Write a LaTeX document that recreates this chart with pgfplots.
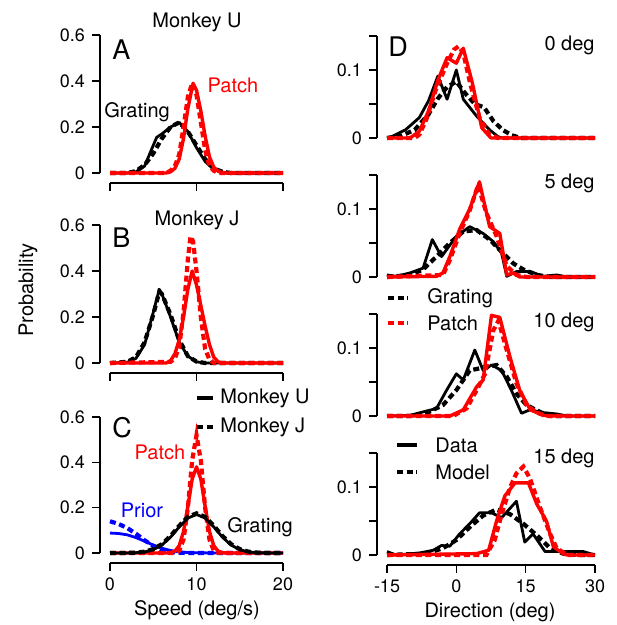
\documentclass[border=0pt]{standalone}
\usepackage{fontspec}
\setmainfont{TeX Gyre Heros}
\usepackage{pgfplots}
\pgfplotsset{compat=1.18}

\definecolor{pred}{RGB}{255,0,0}
\definecolor{pblue}{RGB}{0,0,255}

\pgfplotsset{
  panel/.style={
    scale only axis, anchor=south west, clip=false,
    axis lines=left,
    axis line style={-, line width=0.6pt},
    every tick/.style={black, line width=0.6pt},
    tick align=outside, major tick length=4pt,
    axis x line shift=5pt, axis y line shift=5pt,
    tick label style={font=\fontsize{9}{10}\selectfont},
  },
  left/.style={panel, width=86.5pt, height=69pt,
    xmin=0, xmax=20, ymin=0, ymax=0.6,
    xtick={0,10,20}, ytick={0,0.2,0.4,0.6},
    yticklabels={0,0.2,0.4,0.6}},
  right/.style={panel, width=104pt, height=51pt,
    xmin=-15, xmax=30, ymin=0, ymax=0.15,
    xtick={-15,0,15,30}, ytick={0,0.05,0.1,0.15},
    yticklabels={0,,0.1,}},
  sol/.style={line width=1.4pt, mark=none, line join=round},
  solr/.style={line width=1.7pt, mark=none, line join=round},
  das/.style={line width=2.1pt, mark=none, dash pattern=on 3pt off 1.8pt},
}
\newcommand{\lab}{\fontsize{10}{11}\selectfont}
\newcommand{\letr}{\fontsize{13.5}{14}\selectfont}

\begin{document}
\begin{tikzpicture}
\path[use as bounding box] (0,0) rectangle (308pt,312.5pt);

% ---------- A : Monkey U
\begin{axis}[left, at={(55pt,226pt)}, xticklabels={}]
\addplot[sol, black] coordinates {(0,0)(1,0)(2,0)(3,0.005)(4,0.03)(5,0.12)(5.4,0.155)(6,0.17)(7,0.2)(8,0.22)(9,0.18)(10,0.11)(11,0.05)(12,0.015)(13,0.003)(14,0)(20,0)};
\addplot[das, black] coordinates {(0,0)(2,0)(3,0.008)(4,0.035)(5,0.085)(6,0.15)(7,0.2)(8,0.22)(9,0.18)(10,0.12)(11,0.06)(12,0.02)(13,0.005)(14,0)(20,0)};
\addplot[solr, pred] coordinates {(0,0)(6.5,0)(7,0.005)(7.5,0.02)(8,0.06)(8.5,0.15)(9,0.28)(9.6,0.39)(10,0.36)(10.5,0.27)(11,0.16)(11.5,0.07)(12,0.025)(12.5,0.008)(13,0)(20,0)};
\addplot[das, pred] coordinates {(0,0)(6.5,0)(7,0.01)(7.5,0.03)(8,0.08)(8.5,0.2)(9,0.33)(9.5,0.39)(10,0.34)(10.5,0.22)(11,0.1)(11.5,0.03)(12,0.01)(12.5,0)(20,0)};
\end{axis}

% ---------- B : Monkey J
\begin{axis}[left, at={(55pt,131pt)}, xticklabels={}]
\addplot[sol, black] coordinates {(0,0)(2,0.003)(3,0.02)(4,0.08)(5,0.22)(5.7,0.32)(6,0.3)(7,0.2)(8,0.09)(9,0.03)(10,0.005)(11,0)(20,0)};
\addplot[das, black] coordinates {(0,0)(2,0.005)(3,0.025)(4,0.09)(5,0.21)(5.7,0.31)(6,0.3)(7,0.21)(8,0.1)(9,0.03)(10,0.006)(11,0)(20,0)};
\addplot[solr, pred] coordinates {(0,0)(6.5,0)(7,0.01)(7.5,0.04)(8,0.1)(8.5,0.2)(9,0.32)(9.5,0.40)(10,0.34)(10.5,0.25)(11,0.16)(11.5,0.08)(12,0.025)(12.5,0.005)(13,0)(20,0)};
\addplot[das, pred] coordinates {(0,0)(7,0.005)(7.5,0.02)(8,0.07)(8.5,0.22)(9,0.45)(9.3,0.55)(9.6,0.53)(10,0.4)(10.5,0.2)(11,0.06)(11.5,0.015)(12,0)(20,0)};
\end{axis}

% ---------- C : model
\begin{axis}[left, at={(55pt,36pt)}, height=68pt, xticklabels={0,10,20}]
\addplot[sol, pblue] coordinates {(0,0.088)(1,0.086)(2,0.08)(3,0.068)(4,0.052)(5,0.035)(6,0.021)(7,0.011)(8,0.005)(9,0.002)(10,0.001)(12,0)(20,0)};
\addplot[das, pblue] coordinates {(0,0.14)(1,0.128)(2,0.11)(3,0.085)(4,0.056)(5,0.031)(6,0.014)(7,0.005)(8,0.001)(9,0)(20,0)};
\addplot[solr, pred] coordinates {(0,0)(6.5,0)(7,0.0015)(7.5,0.008)(8,0.032)(8.5,0.095)(9,0.205)(9.5,0.326)(10,0.38)(10.5,0.326)(11,0.205)(11.5,0.095)(12,0.032)(12.5,0.008)(13,0.0015)(13.5,0)(20,0)};
\addplot[das, pred] coordinates {(0,0)(7.5,0)(8,0.011)(8.5,0.059)(9,0.198)(9.5,0.409)(10,0.52)(10.5,0.409)(11,0.198)(11.5,0.059)(12,0.011)(12.5,0.001)(13,0)(20,0)};
\addplot[sol, black] coordinates {(0,0)(2,0.0003)(3,0.0013)(4,0.0048)(5,0.0144)(6,0.035)(7,0.070)(8,0.115)(9,0.154)(10,0.17)(11,0.154)(12,0.115)(13,0.070)(14,0.035)(15,0.0144)(16,0.0048)(17,0.0013)(18,0.0003)(20,0)};
\addplot[das, black] coordinates {(0,0)(2,0.0004)(3,0.0017)(4,0.0058)(5,0.017)(6,0.039)(7,0.075)(8,0.12)(9,0.159)(10,0.175)(11,0.159)(12,0.12)(13,0.075)(14,0.039)(15,0.017)(16,0.0058)(17,0.0017)(18,0.0004)(20,0)};
\end{axis}

% ---------- D : 0 deg
\begin{axis}[right, at={(193.5pt,243.5pt)}, axis x line=none]
\addplot[sol, black] coordinates {(-15,0)(-14,0.002)(-11,0.012)(-8,0.03)(-6,0.055)(-4,0.091)(-2,0.057)(0,0.1)(1.5,0.057)(4.4,0.032)(7.2,0.012)(9,0.002)(10,0)(30,0)};
\addplot[das, black] coordinates {(-15,0)(-12,0.003)(-9,0.012)(-6,0.035)(-4,0.058)(-2,0.075)(0,0.083)(2,0.065)(4,0.05)(6,0.045)(8,0.025)(10,0.012)(12,0.004)(14,0)(30,0)};
\addplot[solr, pred] coordinates {(-15,0)(-10,0)(-8,0.01)(-6,0.04)(-4,0.085)(-2,0.118)(0,0.11)(1.5,0.132)(3.5,0.08)(5.5,0.015)(7.5,0)(30,0)};
\addplot[das, pred] coordinates {(-15,0)(-9,0)(-8,0.005)(-6.5,0.027)(-4.5,0.07)(-2,0.11)(-0.5,0.13)(0.5,0.135)(1.5,0.125)(3,0.08)(5,0.03)(7,0.006)(9,0)(30,0)};
\end{axis}

% ---------- 5 deg
\begin{axis}[right, at={(193.5pt,174pt)}, axis x line=none]
\addplot[sol, black] coordinates {(-15,0.003)(-13,0.001)(-10,0.006)(-7.2,0.013)(-5.2,0.055)(-3.2,0.03)(0,0.06)(2.9,0.074)(5.8,0.064)(8,0.052)(9.8,0.035)(10.9,0.001)(13,0.008)(16,0.008)(18.8,0.001)(21.7,0.003)(24,0)(30,0)};
\addplot[das, black] coordinates {(-15,0)(-10,0.003)(-7.2,0.011)(-4.3,0.03)(-1.4,0.05)(1.5,0.067)(4.4,0.069)(7.2,0.055)(10.1,0.035)(12.3,0.02)(14.5,0.011)(17.4,0.003)(20.3,0)(30,0)};
\addplot[solr, pred] coordinates {(-15,0)(-4.3,0.001)(-2.9,0.006)(-1.4,0.03)(0.7,0.07)(2.9,0.1)(5,0.14)(7.2,0.074)(9.4,0.064)(10.9,0.003)(12.3,0.006)(13.7,0)(30,0)};
\addplot[das, pred] coordinates {(-15,0)(-2.9,0.003)(-1.4,0.025)(0.7,0.064)(2.9,0.098)(4.7,0.135)(6.5,0.094)(8.7,0.06)(10.9,0.016)(13,0.003)(15.2,0)(30,0)};
\end{axis}

% ---------- 10 deg
\begin{axis}[right, at={(193.5pt,104.5pt)}, axis x line=none]
\addplot[sol, black] coordinates {(-15,0)(-10,0.001)(-7.2,0.006)(-4.3,0.011)(-2.1,0.038)(0,0.062)(1.5,0.053)(4,0.097)(5.8,0.067)(7.6,0.075)(9.8,0.067)(11.9,0.038)(14.1,0.004)(15.9,0.009)(18.8,0.005)(21.7,0.003)(24,0)(30,0)};
\addplot[das, black] coordinates {(-15,0)(-10,0)(-6.5,0.004)(-2.9,0.016)(0,0.038)(2.9,0.067)(5,0.07)(8.7,0.075)(10.9,0.058)(13,0.033)(15.2,0.016)(18.1,0.006)(20.3,0)(30,0)};
\addplot[solr, pred] coordinates {(-15,0)(-1.4,0)(1.5,0.009)(4.4,0.043)(5.8,0.053)(7.6,0.148)(9.4,0.145)(11.6,0.087)(13.7,0.038)(16,0.009)(18.8,0.001)(20,0)(30,0)};
\addplot[das, pred] coordinates {(-15,0)(-0.7,0)(2.2,0.011)(4.4,0.038)(6.2,0.062)(8,0.126)(9.1,0.14)(10.9,0.097)(13,0.048)(15.2,0.016)(17.4,0.005)(19.5,0)(30,0)};
\end{axis}

% ---------- 15 deg
\begin{axis}[right, at={(193.5pt,35pt)}, xticklabels={-15,0,15,30}]
\addplot[sol, black] coordinates {(-15,0.005)(-13,0)(-7.9,0.003)(-5,0.007)(-3.2,0.014)(-1.4,0.013)(0.7,0.031)(2.9,0.046)(5,0.062)(7.6,0.062)(9.8,0.055)(13,0.079)(14.8,0.019)(16.6,0.031)(19.2,0.005)(21.7,0.005)(24.6,0.005)(27.5,0.005)(30,0)};
\addplot[das, black] coordinates {(-15,0)(-6.5,0.002)(-2.9,0.01)(0,0.022)(2.9,0.041)(5.8,0.058)(8.7,0.067)(11.6,0.06)(14.5,0.046)(17.4,0.029)(20.3,0.01)(23.1,0.002)(26,0)(30,0)};
\addplot[solr, pred] coordinates {(-15,0)(4.4,0.002)(7,0.007)(8.7,0.05)(10.5,0.087)(12.7,0.106)(15.6,0.106)(17.4,0.075)(19.5,0.05)(21,0.012)(23.1,0.002)(24,0)(30,0)};
\addplot[das, pred] coordinates {(-15,0)(6.5,0)(8.3,0.022)(9.8,0.06)(11.6,0.099)(13,0.12)(14.5,0.13)(15.9,0.113)(18.1,0.07)(20.3,0.031)(21.7,0.01)(24,0)(30,0)};
\end{axis}

% ---------- texts
\node[font=\lab] at (98.5pt,301.5pt) {Monkey U};
\node[font=\lab] at (98.5pt,202.5pt) {Monkey J};
\node[font=\letr, anchor=west, inner sep=0pt] at (56pt,287.5pt) {A};
\node[font=\letr, anchor=west, inner sep=0pt] at (56pt,193.5pt) {B};
\node[font=\letr, anchor=west, inner sep=0pt] at (56pt,98.5pt) {C};
\node[font=\letr, anchor=west, inner sep=0pt] at (194pt,289pt) {D};
\node[font=\lab, text=pred] at (116.5pt,270pt) {Patch};
\node[font=\lab] at (68.5pt,256.5pt) {Grating};
\node[font=\lab, text=pred] at (80pt,86.5pt) {Patch};
\node[font=\lab, text=pblue] at (71pt,57.5pt) {Prior};
\node[font=\lab] at (130pt,49pt) {Grating};
\node[font=\lab, rotate=90] at (14pt,167.5pt) {Probability};
\node[font=\lab] at (98.5pt,7.5pt) {Speed (deg/s)};
\node[font=\lab] at (245pt,6.5pt) {Direction (deg)};
\node[font=\lab, anchor=east, inner sep=0pt] at (297.5pt,290pt) {0 deg};
\node[font=\lab, anchor=east, inner sep=0pt] at (297.5pt,221pt) {5 deg};
\node[font=\lab, anchor=east, inner sep=0pt] at (297.5pt,151.5pt) {10 deg};
\node[font=\lab, anchor=east, inner sep=0pt] at (297.5pt,83.5pt) {15 deg};

% legends
\draw[line width=2.1pt] (98.5pt,113.5pt) -- (106.5pt,113.5pt);
\draw[line width=2.1pt, dash pattern=on 3pt off 1.8pt] (98.5pt,99pt) -- (106.5pt,99pt);
\node[font=\lab, anchor=west, inner sep=0pt] at (110pt,113.5pt) {Monkey U};
\node[font=\lab, anchor=west, inner sep=0pt] at (110pt,99pt) {Monkey J};

\draw[line width=2.1pt, dash pattern=on 3pt off 1.8pt] (194pt,163.5pt) -- (204pt,163.5pt);
\draw[line width=2.1pt, pred, dash pattern=on 3pt off 1.8pt] (194pt,151pt) -- (204pt,151pt);
\node[font=\lab, anchor=west, inner sep=0pt] at (213.5pt,163.5pt) {Grating};
\node[font=\lab, anchor=west, inner sep=0pt] at (213.5pt,151pt) {Patch};

\draw[line width=2.1pt] (198.5pt,90pt) -- (208.5pt,90pt);
\draw[line width=2.1pt, dash pattern=on 3pt off 1.8pt] (198.5pt,76.5pt) -- (208.5pt,76.5pt);
\node[font=\lab, anchor=west, inner sep=0pt] at (217.5pt,90pt) {Data};
\node[font=\lab, anchor=west, inner sep=0pt] at (217.5pt,76.5pt) {Model};
\end{tikzpicture}
\end{document}
